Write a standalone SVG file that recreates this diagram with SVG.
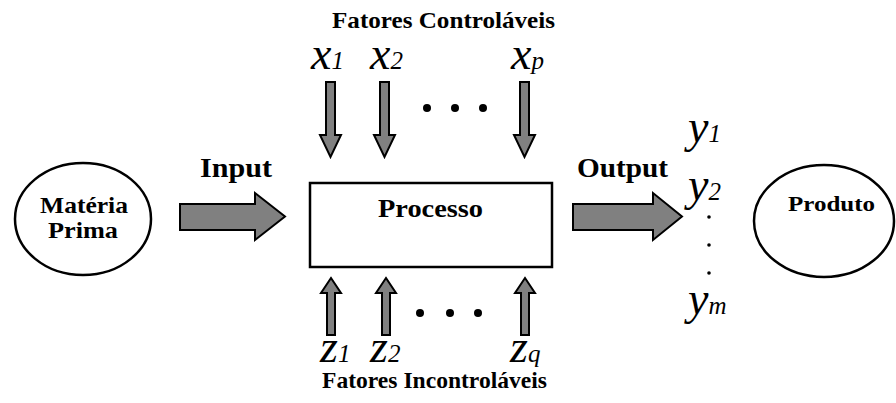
<svg xmlns="http://www.w3.org/2000/svg" width="896" height="403" viewBox="0 0 896 403">
<style>
.lbl{font-family:"Liberation Serif","Times New Roman",serif;font-weight:bold;fill:#000}
.var{font-family:"Liberation Serif","Times New Roman",serif;font-style:italic;fill:#000;font-size:46px}
.sub{font-size:25px}
.arr{fill:#808080;stroke:#000;stroke-width:2;stroke-linejoin:miter}
.shape{fill:#fff;stroke:#000;stroke-width:2.5}
</style>
<rect width="896" height="403" fill="#fff"/>
<g id="materia-prima">
<ellipse class="shape" cx="83" cy="219" rx="68" ry="56"/>
<text class="lbl" x="40" y="213" font-size="24" textLength="88" lengthAdjust="spacingAndGlyphs">Matéria</text>
<text class="lbl" x="48" y="238" font-size="24" textLength="70" lengthAdjust="spacingAndGlyphs">Prima</text>
</g>
<g id="processo">
<rect class="shape" x="310" y="183" width="242" height="84"/>
<text class="lbl" x="378" y="217" font-size="26" textLength="105" lengthAdjust="spacingAndGlyphs">Processo</text>
</g>
<g id="produto">
<ellipse class="shape" cx="824" cy="221" rx="70" ry="56"/>
<text class="lbl" x="788" y="211" font-size="21" textLength="87" lengthAdjust="spacingAndGlyphs">Produto</text>
</g>
<g id="connectors">
<polygon class="arr" points="180,204 255,204 255,193 285,216.5 255,240 255,230 180,230"/>
<polygon class="arr" points="573,204 653,204 653,193 682,216.5 653,240 653,230 573,230"/>
<polygon class="arr" points="326,82 335,82 335,135 341,135 330.5,157 320,135 326,135"/>
<polygon class="arr" points="380,82 389,82 389,135 395,135 384.5,157 374,135 380,135"/>
<polygon class="arr" points="520,82 529,82 529,135 535,135 524.5,157 514,135 520,135"/>
<polygon class="arr" points="327,335 335,335 335,293 341,293 331,278 321,293 327,293"/>
<polygon class="arr" points="382,335 390,335 390,293 396,293 386,278 376,293 382,293"/>
<polygon class="arr" points="521,335 529,335 529,293 535,293 525,278 515,293 521,293"/>
</g>
<g id="labels">
<text class="lbl" x="200" y="177" font-size="27" textLength="72" lengthAdjust="spacingAndGlyphs">Input</text>
<text class="lbl" x="577" y="177" font-size="27" textLength="91" lengthAdjust="spacingAndGlyphs">Output</text>
<text class="lbl" x="332" y="28" font-size="23" textLength="223" lengthAdjust="spacingAndGlyphs">Fatores Controláveis</text>
<text class="lbl" x="322" y="388" font-size="23" textLength="225" lengthAdjust="spacingAndGlyphs">Fatores Incontroláveis</text>
</g>
<g id="x-vars">
<text class="var" x="311" y="69">x<tspan class="sub">1</tspan></text>
<text class="var" x="370" y="69">x<tspan class="sub">2</tspan></text>
<text class="var" x="511" y="69">x<tspan class="sub">p</tspan></text>
</g>
<g id="z-vars">
<text class="var" x="320" y="362">z<tspan class="sub">1</tspan></text>
<text class="var" x="370" y="362">z<tspan class="sub">2</tspan></text>
<text class="var" x="510" y="362">z<tspan class="sub">q</tspan></text>
</g>
<g id="y-vars">
<text class="var" x="688" y="142">y<tspan class="sub">1</tspan></text>
<text class="var" x="688" y="200">y<tspan class="sub">2</tspan></text>
<text class="var" x="688" y="314">y<tspan class="sub">m</tspan></text>
<circle cx="709" cy="217" r="1.8"/>
<circle cx="709" cy="245" r="1.8"/>
<circle cx="709" cy="273" r="1.8"/>
</g>
<g id="dots">
<circle cx="427" cy="108" r="4"/>
<circle cx="455" cy="108" r="4"/>
<circle cx="483" cy="108" r="4"/>
<circle cx="420" cy="313" r="4"/>
<circle cx="450" cy="313" r="4"/>
<circle cx="478" cy="313" r="4"/>
</g>
</svg>
